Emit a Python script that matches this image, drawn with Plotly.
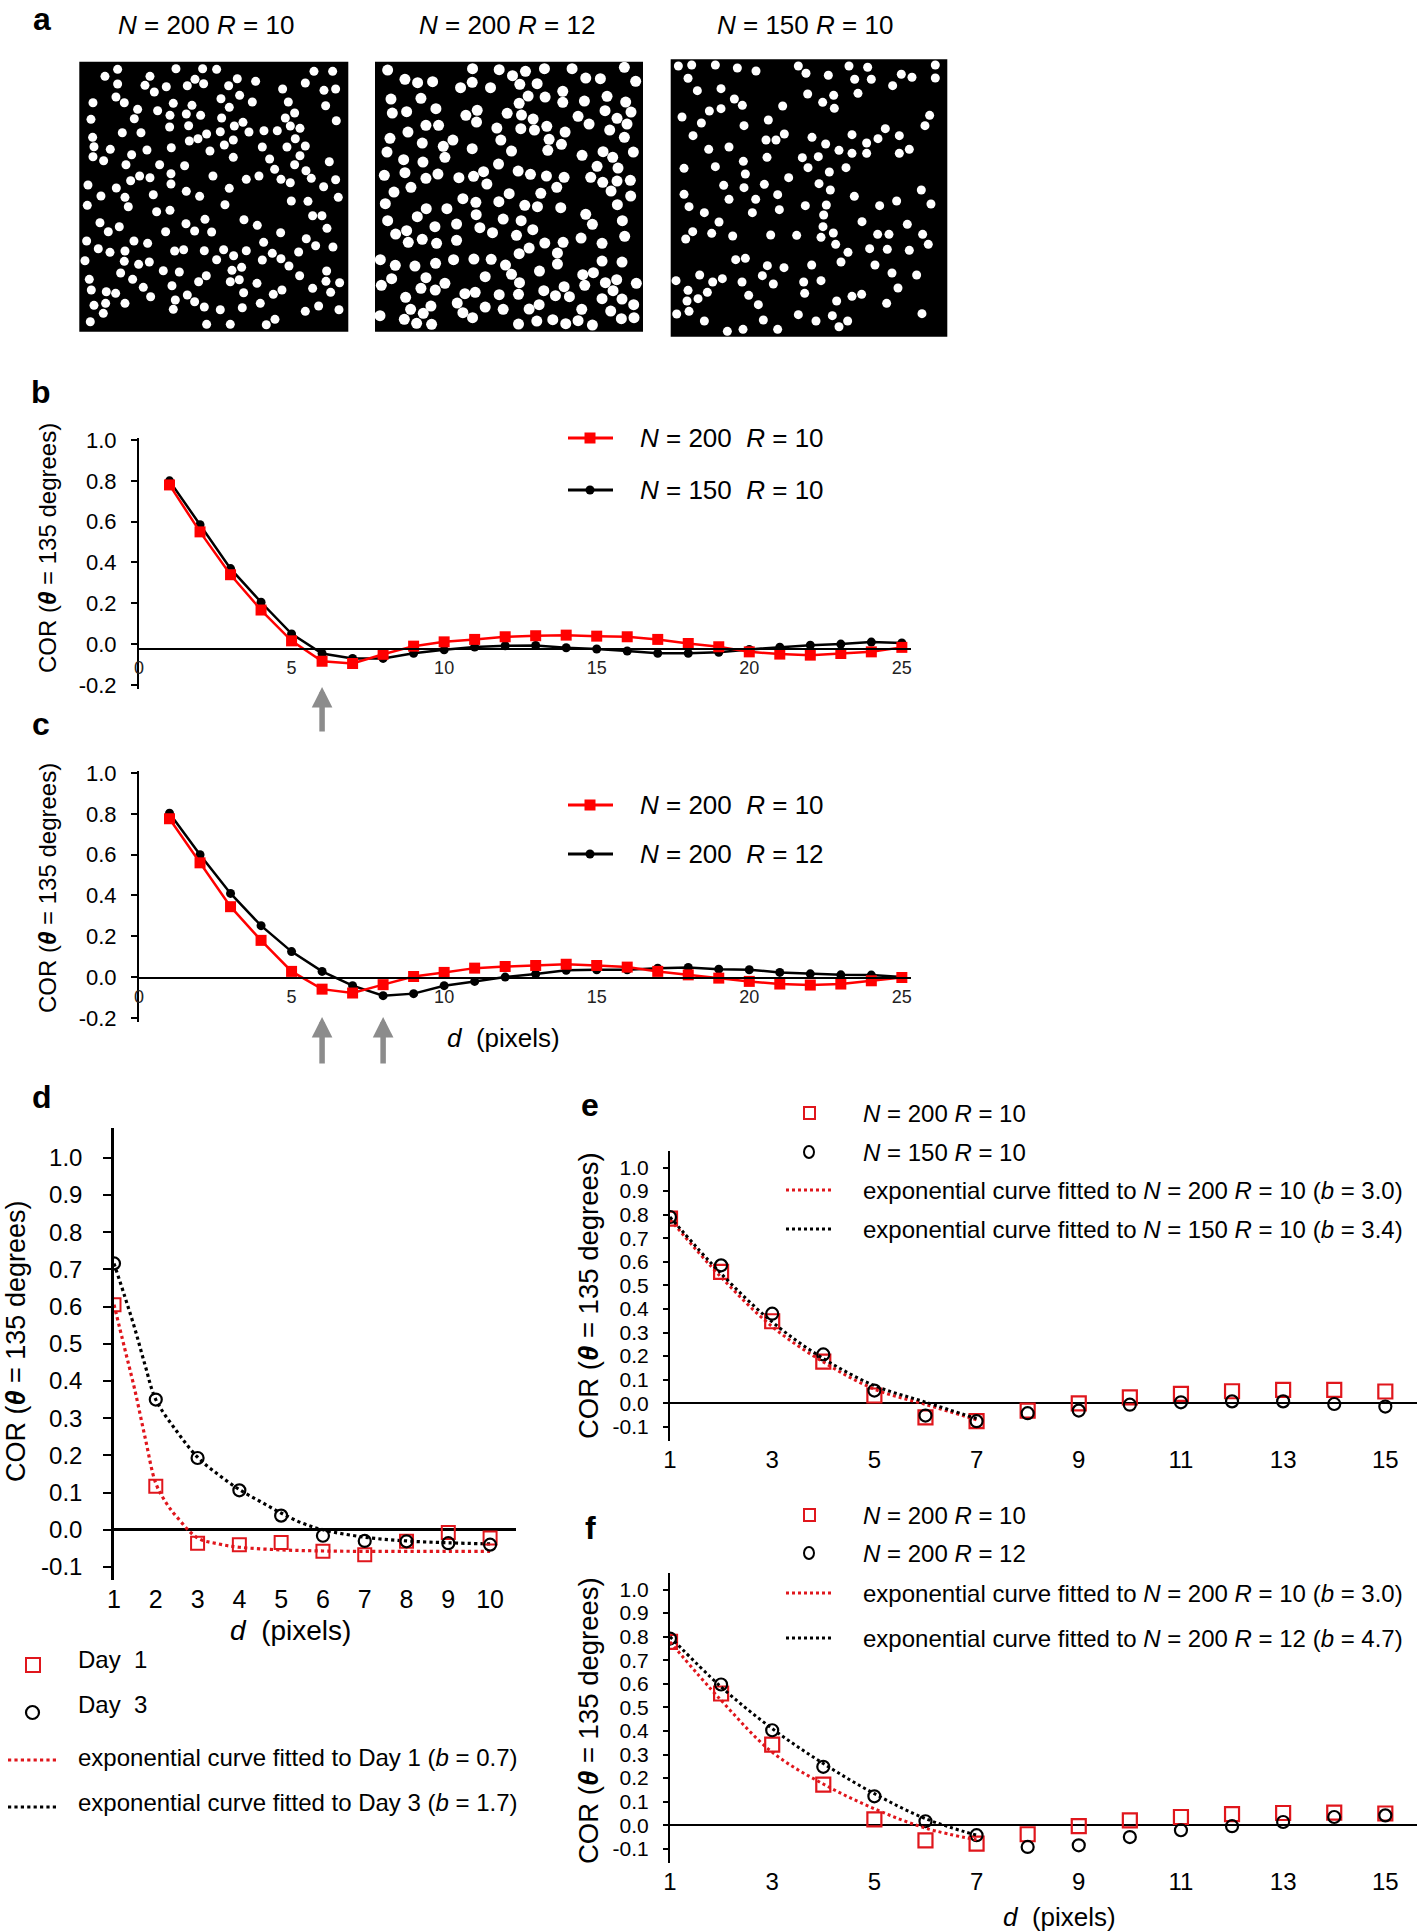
import plotly.graph_objects as go

W, H = 1424, 1932
FONT = "Liberation Sans, Arial, Helvetica, sans-serif"
RED = "#ff0000"
RED2 = "#e0161c"
GREY = "#8c8c8c"

# ---------------- panel a: dot stimuli (dot centres, image pixel units) ----
img1_dots = [
    (143, 58), (318, 56), (398, 56), (440, 58), (732, 64), (788, 64),
    (105, 79), (240, 79), (375, 88), (502, 86), (557, 94), (706, 99),
    (143, 102), (225, 106), (289, 110), (352, 107), (401, 101), (476, 107), (638, 117), (762, 121), (797, 117),
    (253, 126), (138, 141), (509, 136), (453, 146),
    (69, 158), (163, 158), (310, 160), (366, 166), (547, 156), (655, 156), (767, 167),
    (203, 178), (263, 182), (478, 172),
    (300, 196), (349, 192), (392, 196), (674, 189), (646, 204), (455, 204),
    (63, 208), (193, 206), (799, 212),
    (356, 227), (299, 231), (519, 217), (493, 228), (661, 228), (690, 235),
    (157, 248), (213, 248), (451, 245), (410, 252), (537, 246), (582, 242), (622, 242),
    (68, 262), (358, 273), (384, 266), (490, 270), (676, 266),
    (72, 290), (121, 298), (231, 300), (304, 293), (463, 285), (577, 291), (651, 291), (706, 288),
    (420, 303), (185, 314), (69, 320), (101, 332), (490, 322), (599, 327), (690, 317),
    (168, 344), (269, 344), (344, 347), (674, 344), (778, 335),
    (614, 358), (708, 362), (303, 371),
    (209, 378), (240, 383), (429, 378), (567, 378), (529, 388), (633, 388), (661, 398), (724, 385), (797, 389),
    (182, 392), (303, 402), (54, 405), (761, 410),
    (139, 414), (478, 415), (349, 424),
    (93, 438), (165, 442), (250, 434), (389, 439), (805, 442),
    (52, 466), (175, 470), (465, 464), (664, 453), (714, 454),
    (260, 485), (300, 481), (728, 497), (756, 497),
    (90, 518), (148, 530), (348, 521), (405, 508), (522, 509), (562, 526), (771, 535),
    (115, 545), (287, 545), (374, 543), (425, 546), (632, 548),
    (50, 573), (192, 573), (233, 580), (581, 577), (709, 566), (737, 587), (789, 591),
    (85, 596), (120, 607), (165, 603), (314, 603), (341, 599), (403, 602), (461, 599), (529, 602), (607, 610), (686, 606),
    (45, 632), (163, 634), (206, 643), (238, 636), (440, 629), (491, 617), (577, 630), (633, 626), (657, 648),
    (152, 669), (280, 662), (328, 666), (486, 661), (515, 652), (770, 663),
    (58, 688), (188, 688), (409, 677), (386, 695), (481, 695), (508, 689), (689, 677), (768, 694), (809, 698),
    (64, 720), (220, 712), (306, 707), (561, 700), (728, 715),
    (109, 725), (137, 730), (242, 740), (352, 735), (521, 728), (610, 733), (636, 720), (782, 727),
    (72, 766), (107, 760), (165, 760), (316, 750), (374, 755), (403, 771), (517, 773), (571, 760),
    (310, 778), (451, 779), (706, 784), (746, 768), (807, 779),
    (100, 790), (61, 815), (410, 823), (481, 823), (589, 824), (615, 808),
]
img2_dots = [
    (68, 60), (323, 56), (403, 59), (482, 64), (539, 56), (622, 56), (779, 52),
    (120, 88), (158, 98), (203, 95), (443, 77), (465, 103), (517, 101), (663, 84), (707, 86), (813, 94),
    (287, 113), (322, 97), (377, 113),
    (490, 138), (541, 141), (594, 124), (727, 139),
    (78, 147), (168, 145), (463, 160), (594, 157), (659, 153), (783, 156),
    (82, 189), (125, 185), (213, 176), (303, 196), (337, 181), (427, 190), (470, 195), (505, 207), (640, 199), (721, 182), (757, 205), (799, 186),
    (183, 226), (221, 226), (335, 216), (396, 234), (468, 236), (509, 240), (546, 229), (673, 222), (787, 222), (735, 240),
    (129, 246), (601, 246),
    (75, 265), (172, 279), (235, 289), (264, 270), (408, 270), (553, 268), (590, 283), (779, 262),
    (66, 306), (322, 296), (440, 303), (549, 301), (652, 316), (715, 305), (806, 306),
    (116, 329), (174, 336), (240, 322), (401, 342), (744, 322), (697, 349), (760, 354),
    (58, 376), (120, 368), (183, 385), (219, 372), (282, 383), (326, 379), (356, 365), (460, 363), (497, 373), (545, 378), (598, 382), (678, 382), (714, 397), (757, 393), (797, 391),
    (138, 412), (366, 402), (576, 412), (739, 423),
    (87, 426), (433, 431), (528, 430), (798, 438),
    (61, 461), (184, 476), (246, 476), (294, 446), (333, 457), (402, 455), (480, 466), (518, 470), (588, 473), (758, 464),
    (157, 500), (334, 494), (415, 507), (469, 512), (663, 493), (683, 523), (773, 512),
    (68, 512), (210, 530), (275, 522), (345, 533), (504, 539),
    (92, 552), (125, 542), (383, 548), (455, 556), (649, 564), (780, 559),
    (130, 577), (172, 568), (215, 580), (275, 571), (540, 579), (595, 577), (712, 580),
    (493, 594), (463, 611), (578, 609),
    (46, 629), (91, 646), (150, 648), (212, 640), (266, 629), (327, 627), (379, 628), (422, 645), (578, 642), (712, 633), (772, 636),
    (440, 673), (524, 663), (361, 680), (654, 674), (686, 668),
    (80, 686), (183, 683), (240, 700), (49, 706), (168, 715), (211, 720), (464, 698), (598, 710), (660, 706), (722, 698), (756, 689), (815, 700),
    (122, 742), (300, 731), (331, 727), (403, 734), (461, 733), (537, 722), (572, 737), (614, 740), (712, 746), (745, 722), (772, 747),
    (277, 759), (198, 768), (523, 764), (807, 764),
    (137, 778), (175, 790), (361, 771), (415, 778), (493, 777), (651, 778), (738, 783),
    (45, 797), (118, 808), (155, 820), (200, 823), (294, 788), (323, 803), (461, 822), (516, 813), (564, 809), (603, 821), (640, 812), (683, 825), (770, 806), (808, 803),
]
img3_dots = [
    (55, 48), (95, 45), (166, 45), (232, 54), (288, 63), (415, 48), (438, 70), (567, 48), (623, 52), (826, 45),
    (84, 85), (505, 76), (584, 88), (634, 88), (724, 73), (756, 82), (826, 84),
    (112, 122), (183, 116), (443, 132), (521, 136), (594, 130), (698, 107),
    (223, 147), (247, 166), (183, 176), (148, 183), (368, 168), (488, 157), (523, 175),
    (66, 201), (124, 219), (325, 210), (252, 227), (809, 196), (795, 227),
    (99, 257), (318, 270), (348, 270), (373, 252), (456, 262), (497, 282), (576, 254), (676, 236), (654, 266), (718, 257), (620, 279),
    (146, 298), (207, 291), (537, 301), (576, 310), (620, 310), (718, 310), (748, 298),
    (321, 322), (250, 334), (427, 323), (475, 320), (166, 350), (72, 355), (444, 353), (558, 353),
    (256, 372), (508, 366), (386, 383),
    (191, 406), (252, 413), (313, 403), (477, 401), (511, 420), (784, 420),
    (72, 433), (207, 448), (287, 448), (353, 434), (583, 439), (710, 453),
    (87, 470), (358, 479), (436, 467), (499, 465), (659, 467), (813, 462),
    (133, 488), (277, 488), (491, 495),
    (177, 516), (489, 530), (606, 515), (742, 523),
    (98, 545), (77, 567), (155, 550), (218, 558), (332, 555), (410, 556), (483, 562), (520, 549), (653, 553), (687, 553), (788, 553),
    (527, 583), (629, 596), (682, 598), (748, 601), (805, 583),
    (564, 607), (227, 629), (256, 625), (543, 636), (322, 647), (372, 653), (455, 645), (645, 645),
    (119, 675), (48, 692), (158, 696), (187, 686), (246, 696), (307, 677), (340, 702), (431, 696), (483, 692), (696, 669), (770, 675),
    (84, 721), (142, 727), (714, 714),
    (114, 746), (81, 753), (266, 736), (434, 730), (576, 739), (605, 733),
    (295, 764), (530, 753), (680, 760),
    (50, 792), (87, 784), (415, 794), (517, 797), (786, 791),
    (133, 813), (310, 810), (468, 813), (563, 813), (537, 830),
    (202, 844), (249, 838), (353, 838),
]
img_extent_x = [(28, 835), (30, 835), (32, 862)]
img_extent_y = [(845, 35), (845, 35), (860, 28)]
panel_a_titles = ["<i>N</i> = 200 <i>R</i> = 10", "<i>N</i> = 200 <i>R</i> = 12", "<i>N</i> = 150 <i>R</i> = 10"]

# ---------------- panels b and c ----------------
d_25 = list(range(1, 26))
b_n200_r10 = [0.78, 0.55, 0.34, 0.167, 0.016, -0.084, -0.095, -0.05, -0.01, 0.011, 0.023, 0.036, 0.041,
              0.044, 0.039, 0.036, 0.023, 0.003, -0.013, -0.038, -0.049, -0.054, -0.046, -0.038, -0.016]
b_n150_r10 = [0.80, 0.585, 0.37, 0.205, 0.05, -0.046, -0.07, -0.07, -0.045, -0.028, -0.014, -0.008, -0.007,
              -0.018, -0.024, -0.034, -0.045, -0.045, -0.04, -0.026, -0.015, -0.005, 0.0, 0.01, 0.006]
c_n200_r10 = [0.776, 0.56, 0.345, 0.18, 0.028, -0.059, -0.078, -0.037, 0.003, 0.023, 0.044, 0.052, 0.057,
              0.063, 0.057, 0.049, 0.028, 0.011, -0.005, -0.021, -0.034, -0.039, -0.034, -0.018, -0.002]
c_n200_r12 = [0.803, 0.60, 0.41, 0.252, 0.125, 0.028, -0.042, -0.091, -0.081, -0.042, -0.021, 0.0, 0.015,
              0.033, 0.036, 0.036, 0.044, 0.047, 0.039, 0.036, 0.023, 0.016, 0.011, 0.01, 0.0]
bc_ticks = [0, 5, 10, 15, 20, 25]

# ---------------- panel d ----------------
d_10 = list(range(1, 11))
d_day1 = [0.605, 0.117, -0.036, -0.04, -0.034, -0.058, -0.067, -0.031, -0.007, -0.022]
d_day3 = [0.716, 0.35, 0.193, 0.106, 0.038, -0.016, -0.03, -0.031, -0.036, -0.04]
d_fit1_x = [1, 1.25, 1.5, 1.75, 2, 2.25, 2.5, 3, 3.5, 4, 5, 6, 7, 8, 9, 10]
d_fit1_y = [0.605, 0.49, 0.375, 0.245, 0.125, 0.072, 0.035, -0.022, -0.038, -0.047, -0.054, -0.057,
            -0.058, -0.058, -0.058, -0.058]
d_fit3_x = [1, 1.25, 1.5, 1.75, 2, 2.5, 3, 3.5, 4, 4.5, 5, 5.5, 6, 7, 8, 9, 10]
d_fit3_y = [0.716, 0.63, 0.54, 0.44, 0.35, 0.265, 0.195, 0.148, 0.108, 0.076, 0.045, 0.018, 0.0,
            -0.02, -0.03, -0.035, -0.038]

# ---------------- panels e and f ----------------
d_15 = list(range(1, 16))
e_n200_r10 = [0.783, 0.557, 0.348, 0.177, 0.033, -0.06, -0.076, -0.031, 0.0, 0.025, 0.04, 0.051, 0.057, 0.057, 0.05]
e_n150_r10 = [0.79, 0.585, 0.38, 0.207, 0.054, -0.052, -0.076, -0.042, -0.031, -0.006, 0.004, 0.008, 0.008, -0.003, -0.014]
f_n200_r10 = [0.778, 0.559, 0.342, 0.172, 0.025, -0.064, -0.078, -0.038, -0.004, 0.021, 0.035, 0.047, 0.052, 0.054, 0.05]
f_n200_r12 = [0.792, 0.597, 0.403, 0.248, 0.123, 0.017, -0.042, -0.092, -0.085, -0.05, -0.021, -0.004, 0.014, 0.035, 0.042]
fit_x = [1, 2, 3, 4, 5, 6, 7]
e_fit_r10 = [0.78, 0.535, 0.325, 0.175, 0.06, -0.005, -0.07]
e_fit_n150 = [0.79, 0.55, 0.345, 0.19, 0.075, 0.005, -0.065]
f_fit_r10 = [0.778, 0.53, 0.31, 0.175, 0.07, -0.012, -0.062]
f_fit_r12 = [0.80, 0.587, 0.41, 0.262, 0.134, 0.028, -0.042]
ef_ticks = [1, 3, 5, 7, 9, 11, 13, 15]

# =====================================================================================


def px(x):
    return x / W


def py(y):
    return 1 - y / H


fig = go.Figure()
layout = dict(width=W, height=H, margin=dict(l=0, r=0, t=0, b=0, pad=0, autoexpand=False), showlegend=False,
              paper_bgcolor="white", plot_bgcolor="white", font=dict(family=FONT, color="black"))
shapes, annos = [], []

# ---------- panel a ----------
img_dom_x = [(79.3, 348.3), (375, 643), (670.7, 947.3)]
img_dom_y = [(61.7, 331.7), (61.7, 331.7), (59.3, 336.7)]
dot_size = [9, 11, 9]
for i, dots in enumerate([img1_dots, img2_dots, img3_dots]):
    k = "" if i == 0 else str(i + 1)
    layout["xaxis" + k] = dict(domain=[px(img_dom_x[i][0]), px(img_dom_x[i][1])], range=list(img_extent_x[i]),
                               visible=False, anchor="y" + k, automargin=False)
    layout["yaxis" + k] = dict(domain=[py(img_dom_y[i][1]), py(img_dom_y[i][0])], range=list(img_extent_y[i]),
                               visible=False, anchor="x" + k, automargin=False)
    shapes.append(dict(type="rect", xref="x%s domain" % k, yref="y%s domain" % k, x0=0, x1=1, y0=0, y1=1,
                       fillcolor="black", line=dict(width=0), layer="below"))
    fig.add_trace(go.Scatter(x=[p[0] for p in dots], y=[p[1] for p in dots], mode="markers",
                             xaxis="x" + k, yaxis="y" + k,
                             marker=dict(color="white", size=dot_size[i], line=dict(width=0))))
    annos.append(dict(text=panel_a_titles[i], x=px([206, 507, 805][i]), y=py(25), xref="paper", yref="paper",
                      showarrow=False, font=dict(size=26), xanchor="center", yanchor="middle"))


def yticks(vals):
    return dict(tickvals=vals, ticktext=["%.1f" % v if v != 0 else "0.0" for v in vals])


# ---------- panels b, c ----------
bc_y = [-0.2, 0.0, 0.2, 0.4, 0.6, 0.8, 1.0]
for k, (ytop, ybot, xline, red, blk, leg) in {
    "4": (438, 689, 648.7, b_n200_r10, b_n150_r10, (438, 490, "<i>N</i> = 150\u00a0\u00a0<i>R</i> = 10")),
    "5": (771, 1022, 977.5, c_n200_r10, c_n200_r12, (805, 854, "<i>N</i> = 200\u00a0\u00a0<i>R</i> = 12")),
}.items():
    layout["xaxis" + k] = dict(domain=[px(139), px(911)], range=[0, 25.3], anchor="free", position=py(xline),
                               showline=True, linecolor="black", linewidth=2, ticks="", tickvals=bc_ticks,
                               tickfont=dict(size=18, color="#222"), showgrid=False, zeroline=False,
                               ticklabelstandoff=3, automargin=False)
    layout["yaxis" + k] = dict(domain=[py(ybot), py(ytop)], range=[-0.22, 1.01], anchor="x" + k,
                               showline=True, linecolor="black", linewidth=2, ticks="outside", ticklen=6,
                               tickwidth=2, tickcolor="black", tickfont=dict(size=22), showgrid=False,
                               zeroline=False, ticklabelstandoff=10, automargin=False, **yticks(bc_y))
    fig.add_trace(go.Scatter(x=d_25, y=blk, mode="lines+markers", xaxis="x" + k, yaxis="y" + k,
                             line=dict(color="black", width=2.5),
                             marker=dict(symbol="circle", size=9, color="black")))
    fig.add_trace(go.Scatter(x=d_25, y=red, mode="lines+markers", xaxis="x" + k, yaxis="y" + k,
                             line=dict(color=RED, width=2.5),
                             marker=dict(symbol="square", size=11, color=RED)))
    # legend
    r1, r2, lab2 = leg
    for yy, col, sym in [(r1, RED, "square"), (r2, "black", "circle")]:
        shapes.append(dict(type="line", xref="paper", yref="paper", x0=px(568), x1=px(613), y0=py(yy), y1=py(yy),
                           line=dict(color=col, width=3)))
        s = 5.5 if sym == "square" else 4.5
        shapes.append(dict(type="rect" if sym == "square" else "circle", xref="paper", yref="paper",
                           x0=px(590 - s), x1=px(590 + s), y0=py(yy + s), y1=py(yy - s),
                           fillcolor=col, line=dict(color=col, width=0)))
    annos.append(dict(text="<i>N</i> = 200\u00a0\u00a0<i>R</i> = 10", x=px(638), y=py(r1), xref="paper", yref="paper",
                      showarrow=False, font=dict(size=26), xanchor="left", yanchor="middle"))
    annos.append(dict(text=lab2, x=px(638), y=py(r2), xref="paper", yref="paper",
                      showarrow=False, font=dict(size=26), xanchor="left", yanchor="middle"))

# arrows
for xref, xv, tip, tail in [("x4", 6, 687, 733), ("x5", 6, 1017, 1065), ("x5", 8, 1017, 1065)]:
    annos.append(dict(x=xv, xref=xref, y=py(tip), yref="paper", ax=0, ay=tail - tip, text="",
                      showarrow=True, arrowhead=2, arrowsize=0.75, arrowwidth=5.5, arrowcolor=GREY))

# ---------- panel d ----------
d_y = [-0.1, 0.0, 0.1, 0.2, 0.3, 0.4, 0.5, 0.6, 0.7, 0.8, 0.9, 1.0]
layout["xaxis6"] = dict(domain=[px(114), px(516)], range=[1, 10.62], anchor="y6", showline=False, ticks="",
                        tickvals=d_10, tickfont=dict(size=25), showgrid=False, zeroline=False,
                        ticklabelstandoff=2, automargin=False)
layout["yaxis6"] = dict(domain=[py(1580), py(1128)], range=[-0.135, 1.08], anchor="x6", showline=True,
                        linecolor="black", linewidth=2.5, ticks="outside", ticklen=8, tickwidth=2,
                        tickcolor="black", tickfont=dict(size=24), showgrid=False, zeroline=True,
                        zerolinecolor="black", zerolinewidth=2.5, ticklabelstandoff=16, automargin=False,
                        **yticks(d_y))
fig.add_trace(go.Scatter(x=d_fit1_x, y=d_fit1_y, mode="lines", xaxis="x6", yaxis="y6", line_shape="spline",
                         line=dict(color=RED2, width=3.2, dash="dot")))
fig.add_trace(go.Scatter(x=d_fit3_x, y=d_fit3_y, mode="lines", xaxis="x6", yaxis="y6", line_shape="spline",
                         line=dict(color="black", width=3.2, dash="dot")))
fig.add_trace(go.Scatter(x=d_10, y=d_day1, mode="markers", xaxis="x6", yaxis="y6",
                         marker=dict(symbol="square-open", size=13, color=RED2, line=dict(width=2))))
fig.add_trace(go.Scatter(x=d_10, y=d_day3, mode="markers", xaxis="x6", yaxis="y6",
                         marker=dict(symbol="circle-open", size=12, color="black", line=dict(width=2.2))))
# legend d
shapes.append(dict(type="rect", xref="paper", yref="paper", x0=px(26), x1=px(40), y0=py(1672), y1=py(1658),
                   line=dict(color=RED2, width=2)))
shapes.append(dict(type="circle", xref="paper", yref="paper", x0=px(26), x1=px(39), y0=py(1719), y1=py(1706),
                   line=dict(color="black", width=2.2)))
shapes.append(dict(type="line", xref="paper", yref="paper", x0=px(8), x1=px(57), y0=py(1760), y1=py(1760),
                   line=dict(color=RED2, width=3.2, dash="dot")))
shapes.append(dict(type="line", xref="paper", yref="paper", x0=px(8), x1=px(57), y0=py(1807), y1=py(1807),
                   line=dict(color="black", width=3.2, dash="dot")))
for yy, t in [(1659, "Day\u00a0 1"), (1704, "Day\u00a0 3"),
              (1757, "exponential curve fitted to Day 1 (<i>b</i> = 0.7)"),
              (1802, "exponential curve fitted to Day 3 (<i>b</i> = 1.7)")]:
    annos.append(dict(text=t, x=px(76), y=py(yy), xref="paper", yref="paper", showarrow=False,
                      font=dict(size=24), xanchor="left", yanchor="middle"))

# ---------- panels e, f ----------
ef_y = [-0.1, 0.0, 0.1, 0.2, 0.3, 0.4, 0.5, 0.6, 0.7, 0.8, 0.9, 1.0]
for k, (ytop, ybot, sq, ci, fr, fb, rows, lab2, lab4) in {
    "7": (1151, 1441, e_n200_r10, e_n150_r10, e_fit_r10, e_fit_n150, (1113, 1152, 1190, 1229),
          "<i>N</i> = 150 <i>R</i> = 10",
          "exponential curve fitted to <i>N</i> = 150 <i>R</i> = 10 (<i>b</i> = 3.4)"),
    "8": (1573, 1863, f_n200_r10, f_n200_r12, f_fit_r10, f_fit_r12, (1515, 1553, 1593, 1638),
          "<i>N</i> = 200 <i>R</i> = 12",
          "exponential curve fitted to <i>N</i> = 200 <i>R</i> = 12 (<i>b</i> = 4.7)"),
}.items():
    layout["xaxis" + k] = dict(domain=[px(670), px(1417)], range=[1, 15.62], anchor="y" + k, showline=False,
                               ticks="", tickvals=ef_ticks, tickfont=dict(size=24), showgrid=False,
                               zeroline=False, ticklabelstandoff=2, automargin=False)
    layout["yaxis" + k] = dict(domain=[py(ybot), py(ytop)], range=[-0.16, 1.07], anchor="x" + k, showline=True,
                               linecolor="black", linewidth=2, ticks="outside", ticklen=5, tickwidth=2,
                               tickcolor="black", tickfont=dict(size=21), showgrid=False, zeroline=True,
                               zerolinecolor="black", zerolinewidth=2.2, ticklabelstandoff=10,
                               automargin=False, **yticks(ef_y))
    fig.add_trace(go.Scatter(x=d_15, y=sq, mode="markers", xaxis="x" + k, yaxis="y" + k,
                             marker=dict(symbol="square-open", size=14, color=RED2, line=dict(width=2.2))))
    fig.add_trace(go.Scatter(x=d_15, y=ci, mode="markers", xaxis="x" + k, yaxis="y" + k,
                             marker=dict(symbol="circle-open", size=12, color="black", line=dict(width=2.2))))
    fig.add_trace(go.Scatter(x=fit_x, y=fr, mode="lines", xaxis="x" + k, yaxis="y" + k, line_shape="spline",
                             line=dict(color=RED2, width=3, dash="dot")))
    fig.add_trace(go.Scatter(x=fit_x, y=fb, mode="lines", xaxis="x" + k, yaxis="y" + k, line_shape="spline",
                             line=dict(color="black", width=3, dash="dot")))
    r1, r2, r3, r4 = rows
    shapes.append(dict(type="rect", xref="paper", yref="paper", x0=px(804), x1=px(815), y0=py(r1 + 6),
                       y1=py(r1 - 6), line=dict(color=RED2, width=2)))
    shapes.append(dict(type="circle", xref="paper", yref="paper", x0=px(804), x1=px(814),
                       y0=py(r2 + 6), y1=py(r2 - 6), line=dict(color="black", width=2)))
    shapes.append(dict(type="line", xref="paper", yref="paper", x0=px(786), x1=px(833), y0=py(r3), y1=py(r3),
                       line=dict(color=RED2, width=3, dash="dot")))
    shapes.append(dict(type="line", xref="paper", yref="paper", x0=px(786), x1=px(833), y0=py(r4), y1=py(r4),
                       line=dict(color="black", width=3, dash="dot")))
    for yy, t in [(r1, "<i>N</i> = 200 <i>R</i> = 10"), (r2, lab2),
                  (r3, "exponential curve fitted to <i>N</i> = 200 <i>R</i> = 10 (<i>b</i> = 3.0)"), (r4, lab4)]:
        annos.append(dict(text=t, x=px(861), y=py(yy), xref="paper", yref="paper", showarrow=False,
                          font=dict(size=24), xanchor="left", yanchor="middle"))

# ---------- panel letters, axis titles ----------
for t, x, y in [("a", 42, 19), ("b", 41, 392), ("c", 41, 724), ("d", 42, 1097), ("e", 590, 1105), ("f", 590, 1528)]:
    annos.append(dict(text="<b>%s</b>" % t, x=px(x), y=py(y), xref="paper", yref="paper", showarrow=False,
                      font=dict(size=32), xanchor="center", yanchor="middle"))

ytitle = "COR (<b><i>\u03b8</i></b> = 135 degrees)"
for x, y, s in [(47, 548, 24), (47, 888, 24), (16, 1342, 27), (588, 1296, 27.5), (588, 1721, 27.5)]:
    annos.append(dict(text=ytitle, x=px(x), y=py(y), xref="paper", yref="paper", showarrow=False, textangle=-90,
                      font=dict(size=s), xanchor="center", yanchor="middle"))

for x, y, s in [(504, 1038, 26), (290, 1630, 28), (1059, 1917, 26)]:
    annos.append(dict(text="<i>d</i>\u00a0 (pixels)", x=px(x), y=py(y), xref="paper", yref="paper",
                      showarrow=False, font=dict(size=s), xanchor="center", yanchor="middle"))

layout["shapes"] = shapes
layout["annotations"] = annos
fig.update_layout(**layout)
fig.write_html("out.html", config={"displayModeBar": False},
               post_script="document.body.style.margin='0px';")
